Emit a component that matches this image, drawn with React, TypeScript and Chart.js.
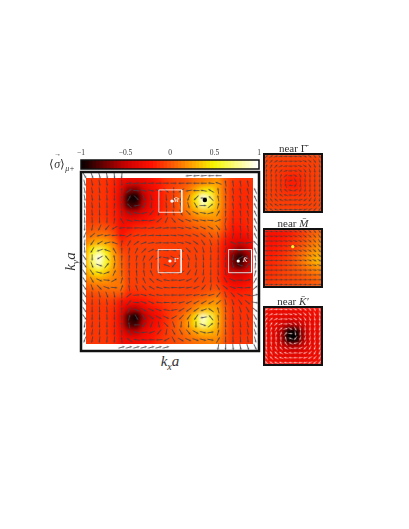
import React, { useEffect, useRef } from "react";
import { Chart, registerables } from "chart.js";
Chart.register(...registerables);

const N = null;

const colorbarTicks = [-1, -0.5, 0, 0.5, 1];
const colorbarLevels = [
  -1, -0.96, -0.92, -0.88, -0.84, -0.8, -0.76, -0.72, -0.68, -0.64, -0.6, -0.56, -0.52, -0.48, -0.44, -0.4, -0.36, -0.32,
  -0.28, -0.24, -0.2, -0.16, -0.12, -0.08, -0.04, 0, 0.04, 0.08, 0.12, 0.16, 0.2, 0.24, 0.28, 0.32, 0.36, 0.4, 0.44, 0.48,
  0.52, 0.56, 0.6, 0.64, 0.68, 0.72, 0.76, 0.8, 0.84, 0.88, 0.92, 0.96, 1,
];

// heat values x100, top row first
const mainHeat = [
  [-8,-8,-8,-10,-12,-22,-28,-28,-25,-20,-15,-8,-5,-3,0,5,8,12,15,2,-5,-8,-8,-8],
  [-8,-8,-8,-10,-14,-28,-35,-35,-32,-26,-18,-10,-5,-2,3,10,15,20,25,5,-8,-10,-10,-10],
  [-8,-8,-8,-10,-16,-32,-65,-70,-42,-30,-20,-10,-5,2,12,28,45,48,28,5,-10,-12,-12,-10],
  [-8,-8,-8,-10,-16,-38,-95,-100,-52,-32,-20,-10,-4,5,20,48,100,72,30,5,-10,-12,-12,-10],
  [-8,-8,-8,-10,-16,-36,-85,-85,-46,-30,-20,-10,-4,5,18,42,85,60,30,5,-10,-14,-12,-10],
  [-8,-8,-8,-10,-15,-30,-48,-48,-35,-26,-18,-9,-4,3,12,24,32,30,24,3,-12,-14,-12,-10],
  [-6,-6,-6,-8,-14,-28,-30,-28,-24,-18,-12,-7,-4,0,5,12,15,18,20,0,-14,-15,-12,-10],
  [-2,0,2,0,-8,-26,-20,-14,-12,-10,-8,-6,-5,-4,0,4,8,12,16,-2,-18,-18,-14,-10],
  [5,10,12,10,0,-22,-12,-8,-7,-6,-6,-5,-5,-5,-4,-2,0,3,5,-12,-24,-26,-22,-15],
  [12,25,30,25,12,-12,-8,-6,-5,-5,-5,-5,-5,-5,-5,-5,-4,-3,-4,-20,-35,-38,-34,-20],
  [20,50,70,45,20,-3,-6,-5,-5,-5,-5,-6,-6,-5,-5,-5,-5,-5,-8,-25,-50,-65,-50,-22],
  [25,70,100,60,25,5,-5,-5,-5,-5,-6,-8,-8,-6,-5,-5,-5,-5,-8,-26,-70,-95,-65,-25],
  [25,65,90,55,25,6,-5,-5,-5,-5,-6,-8,-8,-6,-5,-5,-5,-5,-8,-26,-65,-85,-55,-24],
  [18,40,48,35,20,8,-5,-5,-5,-5,-5,-6,-6,-5,-5,-5,-5,-5,-8,-24,-42,-45,-38,-20],
  [10,22,25,22,15,10,-5,-5,-5,-5,-5,-5,-5,-5,-5,-5,-5,-5,-8,-22,-32,-34,-28,-16],
  [2,8,10,12,12,12,-6,-5,-5,-5,-5,-5,-5,-5,-5,-5,-4,-2,-2,-15,-22,-22,-18,-12],
  [-4,-2,0,2,3,0,-14,-12,-10,-8,-6,-5,-5,-5,-4,-2,2,6,10,-6,-14,-14,-12,-10],
  [-6,-6,-6,-6,-8,-22,-24,-24,-20,-14,-10,-6,-4,-2,2,8,12,18,22,0,-10,-12,-10,-8],
  [-8,-8,-8,-8,-12,-28,-50,-55,-34,-26,-18,-10,-4,0,8,18,32,34,28,4,-8,-10,-10,-8],
  [-8,-8,-8,-8,-14,-34,-85,-100,-54,-34,-24,-12,-2,6,20,45,95,68,32,5,-8,-10,-10,-8],
  [-8,-8,-8,-8,-14,-32,-80,-85,-46,-30,-20,-10,0,10,24,45,85,60,30,5,-8,-10,-10,-8],
  [-8,-8,-8,-8,-14,-28,-48,-50,-32,-24,-16,-8,0,6,14,25,34,32,25,4,-8,-10,-10,-8],
  [-8,-8,-8,-8,-12,-26,-28,-28,-24,-20,-12,-6,-2,2,8,12,16,18,18,2,-8,-8,-8,-8],
  [-8,-8,-8,-8,-12,-24,-25,-25,-22,-16,-10,-6,-2,0,4,8,10,12,12,0,-8,-8,-8,-8],
];

// arrow headings in degrees (0 right, 90 down), top row first
const mainField = [
  [60,70,75,80,85,95,N,N,N,N,N,N,N,N,175,175,175,178,180,N,N,N,N,N],
  [75,78,80,82,85,88,350,355,355,356,358,0,0,178,178,180,180,185,200,262,262,260,258,N],
  [78,80,82,85,87,270,325,5,15,12,15,40,90,145,170,180,190,210,262,262,260,258,256,245],
  [80,82,85,87,90,275,300,45,70,75,80,85,90,105,110,135,180,225,260,265,260,258,255,245],
  [82,84,86,88,275,272,225,170,120,95,90,85,85,70,75,60,0,320,285,268,262,260,258,245],
  [84,86,88,90,275,265,215,190,165,130,105,95,80,60,45,25,10,345,300,272,265,262,258,245],
  [86,88,90,92,278,240,195,188,180,170,140,115,50,30,20,15,10,5,340,280,268,265,262,245],
  [92,100,115,130,150,175,180,178,355,352,352,355,0,10,15,20,25,30,50,80,265,262,260,245],
  [110,140,165,170,175,185,330,345,350,355,0,0,5,10,15,25,35,55,75,85,280,270,265,245],
  [95,125,150,165,200,280,300,325,340,350,355,0,5,10,20,35,55,70,85,90,205,180,170,225],
  [85,120,160,200,240,270,280,295,315,335,350,0,10,25,45,60,75,85,90,100,125,175,215,250],
  [55,90,150,230,260,272,275,280,290,310,335,10,30,50,70,80,85,90,92,95,100,150,240,262],
  [55,70,20,310,280,270,270,272,272,270,260,200,130,100,95,92,90,90,90,85,75,20,310,275],
  [55,55,15,340,295,270,265,265,260,245,225,195,170,150,125,105,95,90,85,80,50,10,335,285],
  [55,60,25,5,330,285,265,258,245,225,205,190,180,170,155,130,110,90,75,60,25,0,345,300],
  [55,70,45,20,5,290,262,250,230,210,195,185,180,175,170,155,130,100,60,40,20,5,355,320],
  [55,85,75,70,80,270,320,355,15,195,188,182,180,176,172,170,170,165,130,75,50,30,10,345],
  [55,90,85,82,85,272,310,5,20,25,188,180,172,165,155,150,150,150,140,80,70,55,40,10],
  [55,90,88,85,88,272,300,20,30,25,20,190,170,150,145,145,160,215,255,85,80,72,60,40],
  [55,92,90,88,90,272,285,60,60,40,30,25,150,135,125,125,170,230,265,88,85,80,72,60],
  [100,95,92,90,92,268,260,180,130,110,80,45,70,95,90,90,20,320,275,88,85,82,78,68],
  [105,98,95,92,93,268,235,195,175,160,130,100,60,60,50,30,15,350,285,88,86,84,80,72],
  [110,100,97,94,95,265,215,190,185,180,175,150,60,30,25,20,15,10,300,90,88,86,82,75],
  [N,N,N,N,N,345,345,345,345,345,345,345,N,N,N,N,N,N,100,92,85,78,72,65],
];

const gammaHeat = [
  [-4,-4,-5,-5,-5,-5,-4,-4],
  [-4,-5,-6,-6,-6,-6,-5,-4],
  [-5,-6,-8,-10,-10,-8,-6,-5],
  [-5,-6,-10,-16,-16,-10,-6,-5],
  [-5,-6,-10,-16,-16,-10,-6,-5],
  [-5,-6,-8,-10,-10,-8,-6,-5],
  [-4,-5,-6,-6,-6,-6,-5,-4],
  [-3,-4,-5,-5,-5,-5,-4,-3],
];
const gammaField = [
  [315,325,340,350,355,0,5,10,20,35,50,60],
  [300,315,330,345,355,0,5,10,25,40,55,68],
  [285,300,315,335,350,0,10,20,35,55,68,78],
  [275,285,295,315,340,0,15,35,55,70,80,85],
  [272,275,280,290,320,0,30,60,78,85,88,90],
  [270,270,272,275,285,340,60,85,90,92,92,92],
  [268,268,265,262,250,190,120,98,92,90,90,90],
  [265,262,255,245,220,195,150,115,100,95,92,90],
  [258,250,235,220,200,185,165,140,120,105,98,95],
  [250,235,220,205,190,182,172,160,145,125,108,100],
  [240,225,210,195,185,180,175,170,155,140,125,110],
  [230,215,200,190,182,178,175,170,160,150,135,120],
];

const mHeat = [
  [-22,-22,-20,-18,-12,-6,2,8],
  [-22,-20,-18,-14,-8,-2,6,14],
  [-20,-18,-15,-10,-4,4,12,20],
  [-18,-16,-12,-6,2,10,20,28],
  [-15,-12,-8,-4,4,14,24,34],
  [-12,-10,-6,-2,2,8,14,20],
  [-10,-8,-5,-3,-1,2,6,10],
  [-8,-6,-4,-3,-2,0,2,5],
];
const mField = [
  [5,8,10,12,15,18,22,28,35,42,50,55],
  [5,8,10,12,15,18,22,28,35,42,50,55],
  [5,5,8,10,12,15,20,25,32,40,48,55],
  [3,5,8,10,12,15,18,22,30,38,45,52],
  [3,5,5,8,10,12,15,20,25,32,40,48],
  [2,3,5,5,8,10,12,15,22,28,35,42],
  [0,2,3,5,5,5,8,10,15,20,25,32],
  [0,0,2,3,3,3,5,5,8,12,15,20],
  [0,0,0,0,2,2,2,3,5,5,8,10],
  [0,0,0,0,0,0,0,0,0,0,2,5],
  [358,358,358,358,358,358,358,358,358,0,0,0],
  [355,355,355,355,356,356,356,356,356,356,357,358],
];

const kHeat = [
  [-28,-30,-30,-30,-30,-30,-28,-26],
  [-30,-32,-34,-36,-36,-34,-32,-30],
  [-30,-34,-42,-52,-52,-42,-34,-30],
  [-32,-36,-55,-100,-100,-55,-36,-32],
  [-32,-36,-55,-100,-100,-55,-36,-32],
  [-30,-34,-42,-52,-52,-42,-34,-30],
  [-30,-32,-34,-36,-36,-34,-32,-30],
  [-28,-30,-30,-30,-30,-30,-28,-26],
];
const kField = [
  [335,345,355,2,10,15,20,30,40,52,62,72],
  [320,335,348,0,10,15,22,32,45,58,68,78],
  [305,318,335,350,5,15,28,42,58,70,80,85],
  [290,300,318,338,0,20,40,60,75,85,90,92],
  [282,288,298,318,345,30,60,80,90,95,98,98],
  [278,280,282,290,310,5,80,95,100,102,102,102],
  [272,272,270,268,255,200,130,110,105,102,100,100],
  [265,262,258,250,235,205,165,130,115,108,105,102],
  [258,250,240,228,210,195,175,155,135,118,110,105],
  [248,238,225,210,198,190,180,170,155,135,120,110],
  [235,225,212,200,190,185,180,175,165,150,135,120],
  [225,212,202,194,188,184,180,175,168,158,145,130],
];

const boxM = [[10.5, 2.4], [13.6, 2.4], [13.6, 5.4], [10.5, 5.4], [10.5, 2.4]];
const boxG = [[10.4, 10.4], [13.5, 10.4], [13.5, 13.5], [10.4, 13.5], [10.4, 10.4]];
const boxK = [[19.9, 10.4], [23, 10.4], [23, 13.5], [19.9, 13.5], [19.9, 10.4]];
const whiteDots = [[12.0, 11.93], [21.2, 11.93], [12.26, 3.9]];
const blackDots = [[16.7, 3.75]];
const mDots = [[5.95, 3.65]];

const stops: [number, number, number, number][] = [
  [-1, 0, 0, 0],
  [-0.5, 196, 0, 0],
  [-0.2, 255, 16, 0],
  [0, 250, 78, 6],
  [0.25, 255, 160, 0],
  [0.5, 246, 246, 0],
  [1, 255, 255, 255],
];
function colorOf(v: number) {
  const t = Math.max(-1, Math.min(1, v));
  for (let i = 1; i < stops.length; i++) {
    if (t <= stops[i][0]) {
      const a = stops[i - 1], b = stops[i];
      const f = (t - a[0]) / (b[0] - a[0]);
      const c = [1, 2, 3].map((k) => Math.round(a[k] + (b[k] - a[k]) * f));
      return `rgb(${c[0]},${c[1]},${c[2]})`;
    }
  }
  return "#fff";
}

function arrowSprite(color: string, len: number, lw: number) {
  const c = document.createElement("canvas");
  c.width = len + 2;
  c.height = 5;
  const g = c.getContext("2d")!;
  g.strokeStyle = color;
  g.fillStyle = color;
  g.lineWidth = lw;
  g.beginPath();
  g.moveTo(0.5, 2.5);
  g.lineTo(len, 2.5);
  g.stroke();
  g.beginPath();
  g.moveTo(len + 1.2, 2.5);
  g.lineTo(len - 1.2, 1.4);
  g.lineTo(len - 1.2, 3.6);
  g.closePath();
  g.fill();
  return c;
}

const heatBlur = {
  id: "heatBlur",
  beforeDatasetsDraw(chart: any) {
    const o = chart.options.plugins.heatBlur;
    if (o.fill) {
      chart.ctx.fillStyle = o.fill;
      chart.ctx.fillRect(0, 0, chart.width, chart.height);
    }
  },
  afterDatasetDraw(chart: any, args: any) {
    const o = chart.options.plugins.heatBlur;
    if (args.index !== 0 || !o.blur) return;
    const copy = document.createElement("canvas");
    copy.width = chart.width;
    copy.height = chart.height;
    copy.getContext("2d")!.drawImage(chart.canvas, 0, 0);
    const a = chart.chartArea;
    const ins = o.inset;
    const ctx = chart.ctx;
    ctx.save();
    ctx.clearRect(0, 0, chart.width, chart.height);
    ctx.beginPath();
    ctx.rect(a.left + ins[0], a.top + ins[1], a.right - a.left - ins[0] - ins[2], a.bottom - a.top - ins[1] - ins[3]);
    ctx.clip();
    ctx.filter = `blur(${o.blur}px)`;
    ctx.drawImage(copy, 0, 0);
    ctx.restore();
  },
  afterDraw(chart: any) {
    const o = chart.options.plugins.heatBlur;
    const a = chart.chartArea;
    chart.ctx.save();
    chart.ctx.strokeStyle = "#111";
    chart.ctx.lineWidth = o.frame;
    chart.ctx.strokeRect(a.left, a.top, a.right - a.left, a.bottom - a.top);
    chart.ctx.restore();
  },
};

function fieldChart(cv: HTMLCanvasElement, cfg: any) {
  const n = cfg.field.length;
  const m = cfg.heat.length;
  const cell = (n / m) * cfg.unit;
  const heatPts: any[] = [];
  cfg.heat.forEach((row: number[], r: number) =>
    row.forEach((v, c) => heatPts.push({ x: ((c + 0.5) * n) / m, y: ((r + 0.5) * n) / m, v: v / 100 }))
  );
  const arrowPts: any[] = [];
  cfg.field.forEach((row: (number | null)[], r: number) =>
    row.forEach((a, c) => {
      if (a !== null) arrowPts.push({ x: c + 0.5, y: r + 0.5, a });
    })
  );
  const sprite = arrowSprite(cfg.arrowColor, cfg.arrowLen, cfg.arrowWidth);
  const extra = (cfg.lines || []).map((pts: number[][]) => ({
    type: "scatter",
    showLine: true,
    order: 2,
    data: pts.map((p) => ({ x: p[0], y: p[1] })),
    borderColor: "rgba(255,255,255,0.8)",
    borderWidth: 1,
    pointRadius: 0,
    clip: false,
  }));
  const dots = (cfg.dots || []).map((d: any) => ({
    type: "scatter",
    order: 1,
    data: d.pts.map((p: number[]) => ({ x: p[0], y: p[1] })),
    pointBackgroundColor: d.color,
    pointBorderWidth: 0,
    pointRadius: d.r,
  }));
  return new Chart(cv, {
    type: "scatter",
    data: {
      datasets: [
        {
          order: 10,
          data: heatPts,
          pointStyle: "rect",
          pointRadius: (cell + 1) * 0.71,
          pointBorderWidth: 0,
          pointBackgroundColor: (c: any) => colorOf(c.raw ? c.raw.v : 0),
          clip: false,
        },
        {
          order: 5,
          data: arrowPts,
          pointStyle: sprite,
          pointRotation: (c: any) => (c.raw ? c.raw.a : 0),
          clip: false,
        },
        ...extra,
        ...dots,
      ],
    } as any,
    options: {
      responsive: false,
      animation: false,
      layout: { padding: cfg.pad, autoPadding: false },
      scales: {
        x: { type: "linear", display: false, min: 0, max: n },
        y: { type: "linear", display: false, min: 0, max: n, reverse: true },
      },
      plugins: {
        legend: { display: false },
        tooltip: { enabled: false },
        heatBlur: { blur: cfg.blur, fill: cfg.fill, frame: cfg.frame, inset: cfg.inset },
      },
    } as any,
    plugins: [heatBlur],
  });
}

function colorbarChart(cv: HTMLCanvasElement) {
  return new Chart(cv, {
    type: "bar",
    data: {
      datasets: [
        {
          data: colorbarLevels.map((v) => ({ x: v, y: 1 })),
          backgroundColor: colorbarLevels.map((v) => colorOf(v)),
          barThickness: 5,
          borderWidth: 0,
        },
      ],
    } as any,
    options: {
      responsive: false,
      animation: false,
      layout: { padding: { left: 11, right: 11, top: 1, bottom: 1 }, autoPadding: false },
      scales: {
        x: {
          type: "linear",
          position: "top",
          min: -1,
          max: 1,
          offset: false,
          grid: { display: false, drawTicks: false },
          border: { display: false },
          afterBuildTicks: (s: any) => {
            s.ticks = colorbarTicks.map((v) => ({ value: v }));
          },
          afterFit: (s: any) => {
            s.height = 13;
          },
          ticks: {
            autoSkip: false,
            maxRotation: 0,
            minRotation: 0,
            padding: 2,
            font: { family: "'Liberation Serif'", size: 7.5 },
            color: "#333",
            callback: (v: number) => (v < 0 ? "\u2212" + Math.abs(v) : String(v)),
          },
        },
        y: { display: false, min: 0, max: 1 },
      },
      plugins: {
        legend: { display: false },
        tooltip: { enabled: false },
        heatBlur: { blur: 0, fill: null, frame: 1.5, inset: [0, 0, 0, 0] },
      },
    } as any,
    plugins: [heatBlur],
  });
}

const abs = (l: number, t: number): React.CSSProperties => ({ position: "absolute", left: l, top: t, display: "block" });
const txt = (l: number, t: number, w: number, size: number, extra?: React.CSSProperties): React.CSSProperties => ({
  position: "absolute",
  left: l,
  top: t,
  width: w,
  textAlign: "center",
  fontFamily: "'Liberation Serif', serif",
  fontSize: size,
  lineHeight: 1,
  color: "#333",
  whiteSpace: "nowrap",
  ...extra,
});

export default function App() {
  const main = useRef<HTMLCanvasElement>(null);
  const bar = useRef<HTMLCanvasElement>(null);
  const g = useRef<HTMLCanvasElement>(null);
  const m = useRef<HTMLCanvasElement>(null);
  const k = useRef<HTMLCanvasElement>(null);

  useEffect(() => {
    const insetOpts = { unit: 4.83, arrowLen: 4, arrowWidth: 0.7, blur: 2.5, frame: 2, pad: 2, inset: [0, 0, 0, 0] };
    const charts = [
      fieldChart(main.current!, {
        heat: mainHeat,
        field: mainField,
        unit: 7.42,
        arrowColor: "rgba(62,62,72,0.9)",
        arrowLen: 6,
        arrowWidth: 0.85,
        blur: 2.5,
        inset: [5, 6, 6, 7],
        fill: "rgb(250,70,6)",
        frame: 2.5,
        pad: 2,
        lines: [boxM, boxG, boxK],
        dots: [
          { pts: whiteDots, color: "#fff", r: 1.6 },
          { pts: blackDots, color: "#000", r: 2.2 },
        ],
      }),
      colorbarChart(bar.current!),
      fieldChart(g.current!, {
        ...insetOpts,
        heat: gammaHeat,
        field: gammaField,
        arrowColor: "rgba(70,60,60,0.85)",
        fill: "rgb(248,72,10)",
      }),
      fieldChart(m.current!, {
        ...insetOpts,
        heat: mHeat,
        field: mField,
        arrowColor: "rgba(70,60,60,0.85)",
        fill: "rgb(250,60,6)",
        dots: [{ pts: mDots, color: "#ffee30", r: 1.6 }],
      }),
      fieldChart(k.current!, {
        ...insetOpts,
        heat: kHeat,
        field: kField,
        arrowColor: "rgba(255,225,225,0.75)",
        fill: "rgb(240,10,10)",
      }),
    ];
    return () => charts.forEach((c) => c.destroy());
  }, []);

  return (
    <div style={{ position: "fixed", left: 0, top: 0, width: 409, height: 529, background: "#fff", overflow: "hidden" }}>
      <canvas ref={main} width={182} height={183} style={abs(79, 170)} />
      <canvas ref={bar} width={200} height={24} style={abs(70, 146)} />
      <canvas ref={g} width={62} height={62} style={abs(262, 152)} />
      <canvas ref={m} width={62} height={62} style={abs(262, 227)} />
      <canvas ref={k} width={62} height={62} style={abs(262, 305)} />

      <div style={txt(44, 158, 36, 12)}>
        {"\u27E8"}
        <span style={{ position: "relative", fontStyle: "italic" }}>
          {"\u03C3"}
          <span style={{ position: "absolute", left: 0, top: -6, fontSize: 7, fontStyle: "normal" }}>{"\u2192"}</span>
        </span>
        {"\u27E9"}
        <sub style={{ fontSize: 8, fontStyle: "italic", lineHeight: 0 }}>{"\u03BC+"}</sub>
      </div>
      <div style={txt(140, 354, 60, 15, { fontStyle: "italic" })}>
        k<sub style={{ fontSize: 10, lineHeight: 0 }}>x</sub>a
      </div>
      <div style={txt(40, 254, 60, 15, { fontStyle: "italic", transform: "rotate(-90deg)" })}>
        k<sub style={{ fontSize: 10, lineHeight: 0 }}>y</sub>a
      </div>
      <div style={txt(263, 143, 60, 11)}>near {"\u0393\u0304"}</div>
      <div style={txt(263, 218, 60, 11)}>near <i>{"M\u0304"}</i></div>
      <div style={txt(263, 296, 60, 11)}>near <i>{"K\u0304\u2032"}</i></div>
      <div style={txt(169, 197, 14, 7, { color: "#fff", fontStyle: "italic" })}>{"M\u0304"}</div>
      <div style={txt(169, 257, 14, 7, { color: "#fff" })}>{"\u0393\u0304"}</div>
      <div style={txt(238, 257, 14, 7, { color: "#fff", fontStyle: "italic" })}>{"K\u0304"}</div>
    </div>
  );
}
